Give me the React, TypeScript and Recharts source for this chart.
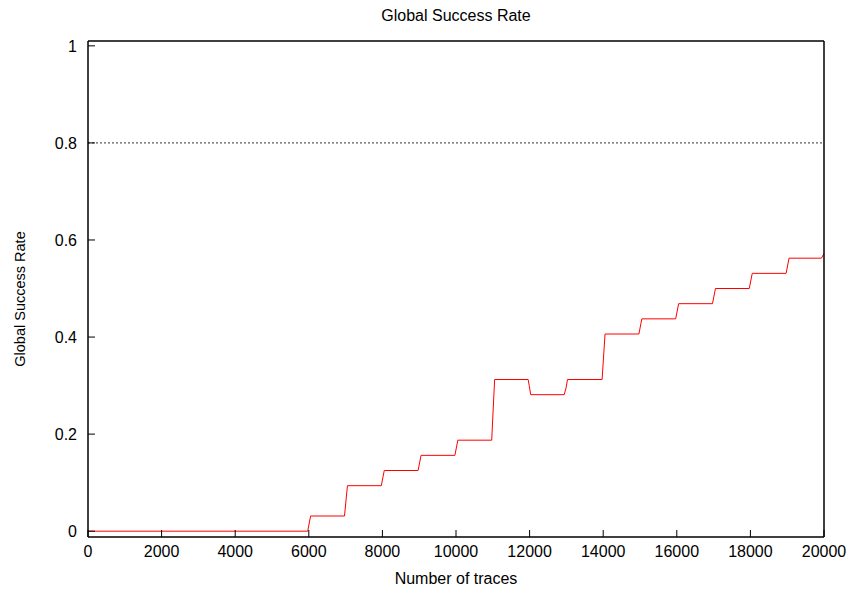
import React from "react";
import {
  LineChart,
  Line,
  XAxis,
  YAxis,
  ReferenceLine,
} from "recharts";

// traces where the curve changes, and the success rate there
const traces = [
  0, 5970, 6050, 6970, 7050, 7970, 8050, 8970, 9050, 9970, 10050, 10970, 11050,
  11960, 11990, 12030, 12940, 12990, 13030, 13970, 14050, 14970, 15050, 15970,
  16050, 16970, 17050, 17970, 18050, 18970, 19050, 19930, 20000,
];
const successRate = [
  0, 0, 0.03125, 0.03125, 0.09375, 0.09375, 0.125, 0.125, 0.15625, 0.15625,
  0.1875, 0.1875, 0.3125, 0.3125, 0.3, 0.28125, 0.28125, 0.295, 0.3125, 0.3125,
  0.40625, 0.40625, 0.4375, 0.4375, 0.46875, 0.46875, 0.5, 0.5, 0.53125,
  0.53125, 0.5625, 0.5625, 0.572,
];

const xTicks = [0, 2000, 4000, 6000, 8000, 10000, 12000, 14000, 16000, 18000, 20000];
const yTicks = [0, 0.2, 0.4, 0.6, 0.8, 1];
const target = 0.8;

const data = traces.map((t, i) => ({ traces: t, rate: successRate[i] }));

const FONT = "'Liberation Sans', Arial, sans-serif";
const tickStyle = { fontSize: 16, fill: "#000", fontFamily: FONT };

const App: React.FC = () => {
  return (
    <div style={{ position: "absolute", left: 0, top: 0, width: 854, height: 589, background: "#fff" }}>
      <svg width={854} height={589} style={{ position: "absolute", left: 0, top: 0, pointerEvents: "none" }}>
        <text x={456} y={21} textAnchor="middle" fontSize={16} fontFamily={FONT} fill="#000">
          Global Success Rate
        </text>
        <text x={456} y={584} textAnchor="middle" fontSize={16} fontFamily={FONT} fill="#000">
          Number of traces
        </text>
        <text
          x={25}
          y={299}
          textAnchor="middle"
          fontSize={14.5}
          fontFamily={FONT}
          fill="#000"
          transform="rotate(-90 25 299)"
        >
          Global Success Rate
        </text>
      </svg>
      <LineChart
        width={854}
        height={589}
        data={data}
        margin={{ top: 40, right: 29, bottom: 0, left: 0 }}
        style={{ position: "absolute", left: 0, top: 0 }}
      >
        <XAxis
          xAxisId="bottom"
          dataKey="traces"
          type="number"
          domain={[0, 20000]}
          ticks={xTicks}
          height={52}
          tickSize={-7}
          tickMargin={16}
          tick={tickStyle}
          stroke="#000"
          axisLine={{ stroke: "#000", strokeWidth: 1.5 }}
          interval={0}
        />
        <XAxis
          xAxisId="top"
          orientation="top"
          dataKey="traces"
          type="number"
          domain={[0, 20000]}
          ticks={xTicks}
          height={1}
          tickSize={-7}
          tick={false}
          stroke="#000"
          axisLine={{ stroke: "#000", strokeWidth: 1.5 }}
          interval={0}
        />
        <YAxis
          yAxisId="left"
          type="number"
          domain={[-0.012, 1.01]}
          ticks={yTicks}
          width={88}
          tickSize={-7}
          tickMargin={18}
          tick={tickStyle}
          stroke="#000"
          axisLine={{ stroke: "#000", strokeWidth: 1.5 }}
          interval={0}
        />
        <YAxis
          yAxisId="right"
          orientation="right"
          type="number"
          domain={[-0.012, 1.01]}
          ticks={yTicks}
          width={1}
          tickSize={-7}
          tick={false}
          stroke="#000"
          axisLine={{ stroke: "#000", strokeWidth: 1.5 }}
          interval={0}
        />
        <ReferenceLine
          xAxisId="bottom"
          yAxisId="left"
          y={target}
          stroke="#333"
          strokeDasharray="2 2"
          strokeWidth={1}
        />
        <Line
          xAxisId="bottom"
          yAxisId="left"
          type="linear"
          dataKey="rate"
          stroke="#ff0000"
          strokeWidth={1}
          dot={false}
          activeDot={false}
          isAnimationActive={false}
        />
      </LineChart>
    </div>
  );
};

export default App;
